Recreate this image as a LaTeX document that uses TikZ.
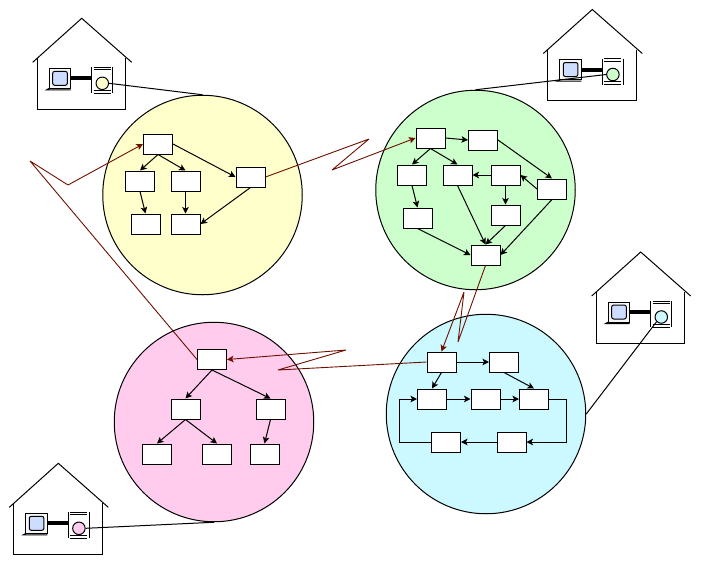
\documentclass[tikz,border=0pt]{standalone}
\usepackage{tikz}
\usetikzlibrary{arrows.meta}
\definecolor{linkred}{RGB}{110,16,0}
\definecolor{cellyellow}{RGB}{255,255,204}
\definecolor{cellgreen}{RGB}{204,255,204}
\definecolor{cellpink}{RGB}{255,204,238}
\definecolor{cellcyan}{RGB}{204,248,255}
\definecolor{screenblue}{RGB}{204,221,255}
\tikzstyle{box} = [rectangle, minimum width=29pt, minimum height=20pt, inner sep=0pt, draw=black, fill=white, line width=1pt]
\tikzstyle{cell} = [circle, minimum size=199.5pt, inner sep=0pt, draw=black, line width=1pt]
\tikzstyle{arrow} = [line width=1pt,-{Stealth[length=6.5pt,width=6.5pt,inset=1.5pt]}]
\tikzstyle{hop} = [line width=0.9pt,line join=bevel,-{Stealth[length=6.5pt,width=6.5pt,inset=1.5pt]},draw=linkred]
\tikzstyle{wire} = [line width=1pt]
\tikzset{
  pics/house/.style={code={
    \draw[wire] (-49,44) -- (0,0) -- (50,44);
    \draw[wire] (-44.4,40) -- (-44.4,91) -- (44,91) -- (44,40);
    \draw[wire, fill=black!3] (-32.4,50) rectangle (-11,70);
    \draw[wire, fill=screenblue, rounded corners=2pt] (-29,53) rectangle (-14.4,67);
    \draw[wire] (-32.4,70) -- (-35,71.5) -- (-11,71.5);
    \draw[line width=4pt] (-11,60) -- (10,60);
    \draw[wire] (10,49) -- (10,75);
    \draw[wire] (31,49) -- (31,75);
    \draw[wire] (12,49) -- (29,49);
    \draw[wire] (12,51.5) -- (29,51.5);
    \draw[wire] (12,72) -- (29,72);
    \draw[wire] (12,75) -- (29,75);
    \node(-dot)[circle, minimum size=12.5pt, inner sep=0pt, draw=black, line width=1pt, fill=#1] at (20.6,65){};
  }}
}
\begin{document}
\begin{tikzpicture}[x=1pt,y=-1pt]
\useasboundingbox (0,0) rectangle (702,566);
\node(yellow)[cell, fill=cellyellow] at (202.5,195){};
\node(green)[cell, fill=cellgreen] at (475.5,190){};
\node(pink)[cell, fill=cellpink] at (214,422){};
\node(cyan)[cell, fill=cellcyan] at (486,414){};
\pic(hy) at (81.7,18.3) {house={cellyellow}};
\pic(hg) at (592.3,9.5) {house={cellgreen}};
\pic(hc) at (640.7,252) {house={cellcyan}};
\pic(hp) at (58.3,463.3) {house={cellpink}};
\draw[wire] (hy-dot.east) -- (yellow.north);
\draw[wire] (hg-dot.west) -- (green.north);
\draw[wire] (hc-dot.south west) -- (cyan.east);
\draw[wire] (hp-dot.east) -- (pink.south);
\node(y1)[box] at (158,144){};
\node(y2)[box] at (140,181){};
\node(y3)[box] at (185.5,181){};
\node(y4)[box] at (250.5,177){};
\node(y5)[box] at (145.5,224){};
\node(y6)[box] at (185.5,224){};
\draw[arrow] (y1.south) -- (y2.north);
\draw[arrow] (y1.south) -- (y3.north);
\draw[arrow] (y1.east) -- (y4.west);
\draw[arrow] (y2.south) -- (y5.north);
\draw[arrow] (y3.south) -- (y6.north);
\draw[arrow] (y4.south) -- (y6.east);
\node(g1)[box] at (430.5,138){};
\node(g2)[box] at (483,140){};
\node(g3)[box] at (412,175){};
\node(g4)[box] at (457.5,175){};
\node(g5)[box] at (505.5,175){};
\node(g6)[box] at (552,189){};
\node(g7)[box] at (417.5,218){};
\node(g8)[box] at (505.5,215){};
\node(g9)[box] at (485.5,255){};
\draw[arrow] (g1.east) -- (g2.west);
\draw[arrow] (g1.south) -- (g3.north);
\draw[arrow] (g1.south) -- (g4.north);
\draw[arrow] (g2.east) -- (g6.north);
\draw[arrow] (g5.west) -- (g4.east);
\draw[arrow] (g6.west) -- (g5.east);
\draw[arrow] (g5.south) -- (g8.north);
\draw[arrow] (g3.south) -- (g7.north);
\draw[arrow] (g4.south) -- (g9.north);
\draw[arrow] (g8.south) -- (g9.north);
\draw[arrow] (g7.south) -- (g9.west);
\draw[arrow] (g6.south) -- (g9.east);
\node(c1)[box] at (441.5,362){};
\node(c2)[box] at (504,362){};
\node(c3)[box] at (432,399){};
\node(c4)[box] at (485.5,399){};
\node(c5)[box] at (534,399){};
\node(c6)[box] at (446,442){};
\node(c7)[box] at (511.5,442){};
\draw[arrow] (c1.east) -- (c2.west);
\draw[arrow] (c1.south) -- (c3.north);
\draw[arrow] (c2.south) -- (c5.north);
\draw[arrow] (c3.east) -- (c4.west);
\draw[arrow] (c4.east) -- (c5.west);
\draw[arrow] (c5.east) -- (566.7,399) -- (566.7,442) -- (c7.east);
\draw[arrow] (c7.west) -- (c6.east);
\draw[arrow] (c6.west) -- (399.3,442) -- (399.3,399) -- (c3.west);
\node(p1)[box] at (212,359.5){};
\node(p2)[box] at (185.5,409){};
\node(p3)[box] at (270.5,409){};
\node(p4)[box] at (157,454){};
\node(p5)[box] at (217,454){};
\node(p6)[box] at (264.5,454){};
\draw[arrow] (p1.south) -- (p2.north);
\draw[arrow] (p1.south) -- (p3.north);
\draw[arrow] (p2.south) -- (p4.north);
\draw[arrow] (p2.south) -- (p5.north);
\draw[arrow] (p3.south) -- (p6.north);
\draw[hop] (y4.east) -- (369,139) -- (332,170) -- (g1.west);
\draw[hop] (g9.south) -- (458,342) -- (464,292) -- (c1.north);
\draw[hop] (c1.west) -- (278,370) -- (346,350) -- (p1.east);
\draw[hop] (p1.west) -- (30,161) -- (68,185) -- (y1.west);
\end{tikzpicture}
\end{document}
